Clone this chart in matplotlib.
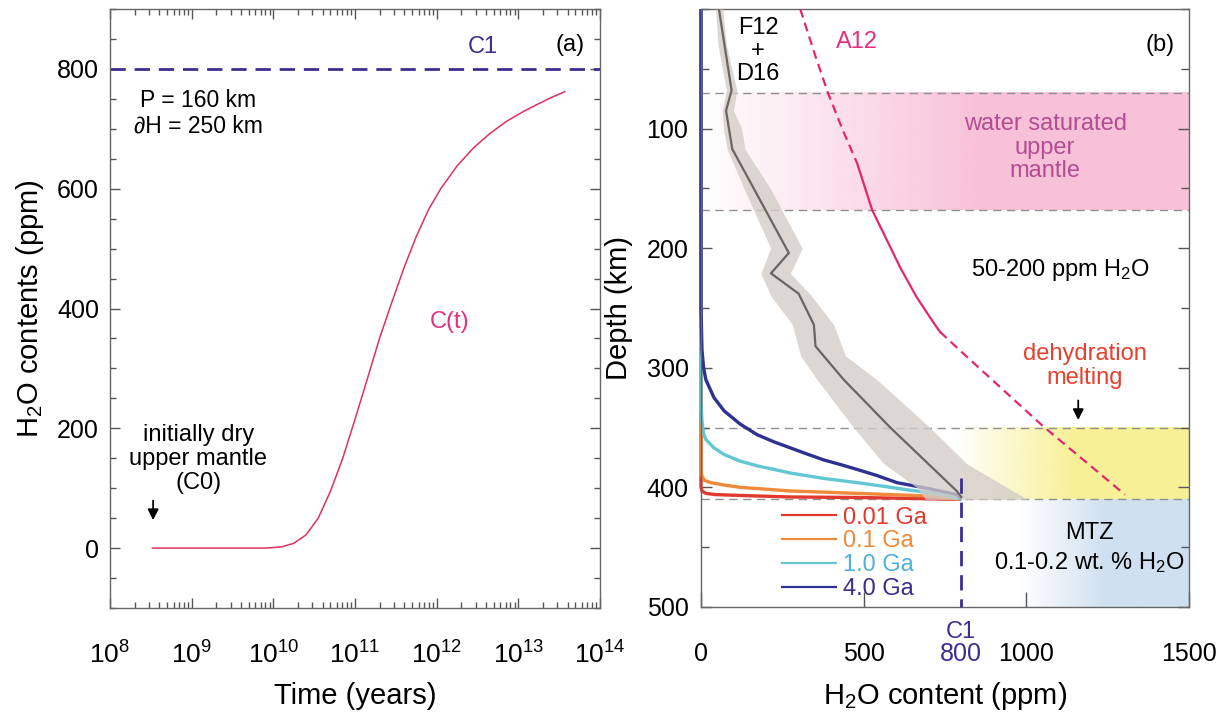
import numpy as np
import matplotlib
matplotlib.use("Agg")
import matplotlib.pyplot as plt
from matplotlib.colors import to_rgb
from matplotlib.ticker import MultipleLocator, LogLocator, NullFormatter

plt.rcParams["font.family"] = ["Liberation Sans", "DejaVu Sans"]
plt.rcParams["mathtext.fontset"] = "custom"
plt.rcParams["mathtext.rm"] = "Liberation Sans"
plt.rcParams["mathtext.it"] = "Liberation Sans:italic"
plt.rcParams["mathtext.default"] = "regular"

# ---- panel (a): water content of upper mantle through time ----
log_time = [8.52, 9.0, 9.5, 9.9, 10.1, 10.25, 10.4, 10.55, 10.7, 10.85, 11.0, 11.15, 11.3,
            11.45, 11.6, 11.75, 11.9, 12.05, 12.25, 12.45, 12.65, 12.85, 13.05, 13.25, 13.4, 13.57]
c_of_t = [0, 0, 0, 0, 2, 8, 22, 50, 95, 150, 215, 282, 350,
          410, 468, 520, 565, 600, 638, 668, 692, 712, 728, 742, 752, 762]
c1_value = 800

# ---- panel (b): depth profiles ----
model_ages = ["0.01 Ga", "0.1 Ga", "1.0 Ga", "4.0 Ga"]
model_colors = ["#e2392f", "#f0893a", "#62c6d3", "#2e318f"]
model_text_colors = ["#e2392f", "#f0893a", "#4fb0dc", "#3b2d8a"]
model_depth = [
    [0, 400, 403, 405, 406, 407, 408, 408.5, 410],
    [0, 385, 390.5, 394, 396, 398, 400, 401.5, 403, 404, 405, 406, 407, 410],
    [0, 330, 345, 355, 360, 367, 372.5, 378, 382, 385, 388, 392.5, 396, 399, 402, 405, 410],
    [0, 250, 285, 300, 310, 325, 336, 347, 356, 362, 367, 372, 377, 381, 385, 390, 396, 401, 406, 410],
]
model_ppm = [
    [0, 0, 3, 15, 44, 150, 275, 500, 800],
    [0, 0, 3, 10, 30, 70, 122, 200, 275, 380, 480, 580, 684, 800],
    [0, 0, 3, 8, 15, 40, 71, 120, 173, 225, 275, 377, 480, 560, 633, 720, 800],
    [0, 0, 3, 8, 15, 40, 71, 120, 173, 225, 275, 325, 377, 430, 480, 540, 602, 700, 786, 800],
]

# F12 + D16 observed profile with its uncertainty band
obs_depth = [0, 68, 85, 117, 204, 221, 238, 264, 282, 292, 310, 350, 403, 408]
obs_ppm = [55, 94, 77, 96, 270, 215, 300, 347, 352, 383, 439, 582, 786, 800]
band_depth = [0, 30, 68, 85, 100, 117, 150, 200, 221, 240, 264, 290, 310, 350, 380, 400, 410]
band_low = [45, 52, 78, 65, 69, 80, 132, 214, 184, 215, 281, 306, 357, 469, 561, 663, 690]
band_high = [67, 78, 110, 100, 125, 135, 213, 311, 275, 340, 408, 444, 541, 704, 816, 940, 1004]

# A12 water storage capacity
a12_depth = [0, 38, 70, 102, 129, 168, 193, 216, 241, 264, 270, 292, 349, 406]
a12_ppm = [305, 350, 390, 437, 480, 526, 571, 612, 663, 719, 735, 822, 1052, 1303]
a12_solid_range = (129, 270)

saturated_layer = (70, 168)
melting_layer = (350, 410)
mtz_layer = (410, 500)

c1_color = "#3f2d91"
pink_line = "#e3266f"
gray_line = "#6b6562"

fig = plt.figure(figsize=(12.3, 7.15), dpi=100)
ax_a = fig.add_axes([110 / 1230, 107 / 715, 490 / 1230, 599 / 715])
ax_b = fig.add_axes([701 / 1230, 108 / 715, 488 / 1230, 598 / 715])

# ---------------- panel (a) ----------------
time_years = 10 ** np.array(log_time)
ax_a.plot(time_years, c_of_t, color="#e0305c", lw=1.1)
ax_a.axhline(c1_value, color=c1_color, lw=2.0, dashes=(5.5, 3.2))
ax_a.set_xscale("log")
ax_a.set_xlim(1e8, 1e14)
ax_a.set_ylim(-100, 900)
ax_a.xaxis.set_major_locator(LogLocator(base=10, numticks=10))
ax_a.xaxis.set_minor_locator(LogLocator(base=10, subs=np.arange(2, 10), numticks=20))
ax_a.xaxis.set_minor_formatter(NullFormatter())
ax_a.yaxis.set_major_locator(MultipleLocator(200))
ax_a.yaxis.set_minor_locator(MultipleLocator(50))
ax_a.tick_params(which="both", direction="in", top=True, right=True, width=1, color="#555555")
ax_a.tick_params(which="major", length=7)
ax_a.tick_params(which="minor", length=4)
ax_a.tick_params(axis="x", which="major", labelsize=19, pad=24)
ax_a.tick_params(axis="y", which="major", labelsize=18, pad=8)
ax_a.set_xlabel("Time (years)", fontsize=21, labelpad=10)
ax_a.set_ylabel("H$_2$O contents (ppm)", fontsize=21, labelpad=8)

ax_a.text(0.761, 0.937, "C1", transform=ax_a.transAxes, color=c1_color, fontsize=17, ha="center", va="center")
ax_a.text(0.939, 0.940, "(a)", transform=ax_a.transAxes, fontsize=17, ha="center", va="center")
ax_a.text(0.180, 0.826, "P = 160 km\n\u2202H = 250 km", transform=ax_a.transAxes, fontsize=16.5,
          ha="center", va="center", linespacing=1.15)
ax_a.text(0.694, 0.477, "C(t)", transform=ax_a.transAxes, color="#e62e7d", fontsize=17, ha="center", va="center")
ax_a.text(0.180, 0.249, "initially dry\nupper mantle\n(C0)", transform=ax_a.transAxes, fontsize=17,
          ha="center", va="center", linespacing=1.1)
ax_a.annotate("", xy=(0.088, 0.142), xytext=(0.088, 0.184), xycoords="axes fraction",
              arrowprops=dict(arrowstyle="-|>", color="black", lw=1.3, mutation_scale=16))

# ---------------- panel (b) ----------------
def gradient_band(ax, layer, color, ramp_start, ramp_end):
    xs = np.linspace(0, 1500, 600)
    alpha = np.clip((xs - ramp_start) / (ramp_end - ramp_start), 0, 1)
    rgba = np.zeros((1, xs.size, 4))
    rgba[..., :3] = to_rgb(color)
    rgba[..., 3] = alpha
    ax.imshow(rgba, extent=(0, 1500, layer[1], layer[0]), aspect="auto", zorder=0,
              interpolation="bilinear")

gradient_band(ax_b, saturated_layer, "#f8c1d8", 0, 850)
gradient_band(ax_b, melting_layer, "#f8f096", 780, 1150)
gradient_band(ax_b, mtz_layer, "#cfe0f0", 980, 1250)

for boundary in [saturated_layer[0], saturated_layer[1], melting_layer[0], melting_layer[1]]:
    ax_b.axhline(boundary, color="#909090", lw=1.0, dashes=(6, 4), zorder=1)

for depth, ppm, color, label in zip(model_depth, model_ppm, model_colors, model_ages):
    ax_b.plot(ppm, depth, color=color, lw=2.4, label=label, zorder=2, solid_capstyle="butt",
              clip_on=False)

ax_b.fill_betweenx(band_depth, band_low, band_high, color="#d3ccc7", alpha=0.78, lw=0, zorder=3)
ax_b.plot(obs_ppm, obs_depth, color=gray_line, lw=1.6, zorder=4)

a12_depth_arr = np.array(a12_depth)
a12_ppm_arr = np.array(a12_ppm)
top_part = a12_depth_arr <= a12_solid_range[0]
mid_part = (a12_depth_arr >= a12_solid_range[0]) & (a12_depth_arr <= a12_solid_range[1])
low_part = a12_depth_arr >= a12_solid_range[1]
ax_b.plot(a12_ppm_arr[top_part], a12_depth_arr[top_part], color=pink_line, lw=1.6, dashes=(4, 2.5), zorder=4)
ax_b.plot(a12_ppm_arr[mid_part], a12_depth_arr[mid_part], color=pink_line, lw=1.6, zorder=4)
ax_b.plot(a12_ppm_arr[low_part], a12_depth_arr[low_part], color=pink_line, lw=1.6, dashes=(4, 2.5), zorder=4)

ax_b.plot([c1_value, c1_value], [392, 500], color=c1_color, lw=2.0, dashes=(5.5, 3.2), zorder=5,
          clip_on=False)

ax_b.set_xlim(0, 1500)
ax_b.set_ylim(500, 0)
ax_b.set_xticks([0, 500, 800, 1000, 1500])
ax_b.set_xticklabels(["0", "500", "800", "1000", "1500"])
ax_b.set_yticks([100, 200, 300, 400, 500])
ax_b.yaxis.set_minor_locator(MultipleLocator(50))
ax_b.tick_params(which="both", direction="in", right=True, top=False, width=1, color="#555555")
ax_b.tick_params(axis="y", which="major", length=8, labelsize=18, pad=9)
ax_b.tick_params(axis="y", which="minor", length=6)
ax_b.tick_params(axis="x", which="major", length=11, labelsize=18, pad=25)
ax_b.get_xticklabels()[2].set_color(c1_color)
ax_b.xaxis.get_major_ticks()[2].tick1line.set_visible(False)
ax_b.annotate("C1", xy=(c1_value, 0), xycoords=("data", "axes fraction"), xytext=(0, -18),
              textcoords="offset points", ha="center", va="center", fontsize=17, color=c1_color)
ax_b.set_xlabel("H$_2$O content (ppm)", fontsize=21, labelpad=10)
ax_b.set_ylabel("Depth (km)", fontsize=21, labelpad=10)

legend = ax_b.legend(loc="upper left", bbox_to_anchor=(0.163, 0.168), frameon=False, fontsize=17,
                     handlelength=2.4, handletextpad=0.25, labelspacing=0.08, borderpad=0,
                     borderaxespad=0)
for text, color in zip(legend.get_texts(), model_text_colors):
    text.set_color(color)
for line in legend.get_lines():
    line.set_linewidth(1.6)

ax_b.text(0.117, 0.930, "F12\n+\nD16", transform=ax_b.transAxes, fontsize=17, ha="center", va="center",
          linespacing=1.05)
ax_b.text(0.320, 0.945, "A12", transform=ax_b.transAxes, fontsize=17, ha="center", va="center", color="#e62e7d")
ax_b.text(0.941, 0.940, "(b)", transform=ax_b.transAxes, fontsize=17, ha="center", va="center")
ax_b.text(0.705, 0.768, "water saturated\nupper\nmantle", transform=ax_b.transAxes, fontsize=17,
          ha="center", va="center", color="#b24d92", linespacing=1.1)
ax_b.text(0.736, 0.564, "50-200 ppm H$_2$O", transform=ax_b.transAxes, fontsize=17, ha="center", va="center")
ax_b.text(0.787, 0.403, "dehydration\nmelting", transform=ax_b.transAxes, fontsize=17, ha="center",
          va="center", color="#e8402d", linespacing=1.1)
ax_b.annotate("", xy=(0.773, 0.308), xytext=(0.773, 0.350), xycoords="axes fraction",
              arrowprops=dict(arrowstyle="-|>", color="black", lw=1.3, mutation_scale=16))
ax_b.text(0.795, 0.124, "MTZ", transform=ax_b.transAxes, fontsize=17, ha="center", va="center")
ax_b.text(0.795, 0.074, "0.1-0.2 wt. % H$_2$O", transform=ax_b.transAxes, fontsize=17, ha="center", va="center")

for ax in (ax_a, ax_b):
    for spine in ax.spines.values():
        spine.set_color("#666666")
        spine.set_linewidth(1.0)

fig.savefig("out.png", dpi=100)
